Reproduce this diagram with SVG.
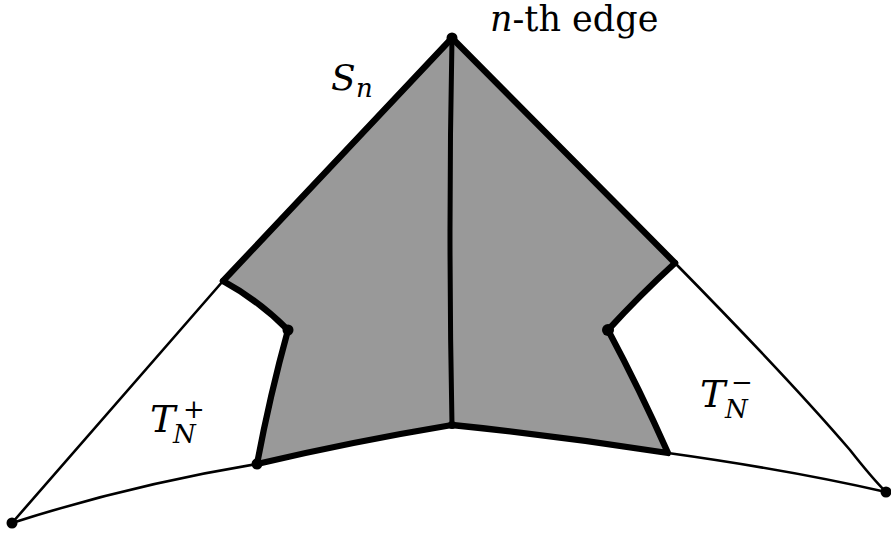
<svg xmlns="http://www.w3.org/2000/svg" width="891" height="533" viewBox="0 0 891 533">
<style>
.thin{fill:none;stroke:#000;stroke-width:2.6;stroke-linecap:round;stroke-linejoin:round}
.thick{fill:none;stroke:#000;stroke-width:6.3;stroke-linecap:round;stroke-linejoin:round}
.dot{fill:#000}
text{font-family:'DejaVu Serif','Liberation Serif',serif;fill:#000}
.it{font-style:italic}
</style>
<rect width="891" height="533" fill="#fff"/>
<g id="region">
<path d="M452,38 L675,263 Q640,295 608,330 Q640,390 668,453 Q560,436 452,425 Q350,442 257,464 Q270,395 288,330 Q255,300 223,281 Z" fill="#999999" stroke="none"/>
</g>
<g id="connectors">
<path class="thin" d="M12,523 L223,281"/>
<path class="thin" d="M12,523 Q130,485 257,464"/>
<path class="thin" d="M668,453 Q790,470 886,492"/>
<path class="thin" d="M675,263 Q790,380 850,450 Q872,478 886,492"/>
<path class="thick" d="M223,281 L452,38 L675,263"/>
<path class="thick" d="M223,281 Q258,300 288,330 Q270,395 257,464 Q350,442 452,425 Q560,436 668,453 Q640,390 608,330 Q640,295 675,263"/>
<path class="thick" style="stroke-width:5" d="M452,38 Q448,230 452,425"/>
</g>
<g id="dots">
<circle class="dot" cx="452" cy="38" r="5.5"/>
<circle class="dot" cx="288" cy="330" r="5.5"/>
<circle class="dot" cx="608" cy="330" r="6"/>
<circle class="dot" cx="257" cy="464" r="5.5"/>
<circle class="dot" cx="452" cy="425" r="4"/>
<circle class="dot" cx="12" cy="523" r="5.5"/>
<circle class="dot" cx="886" cy="492" r="5.5"/>
</g>
<g id="label-edge">
<text x="490" y="31" font-size="35"><tspan class="it">n</tspan>-th edge</text>
</g>
<g id="label-Sn">
<text class="it" x="331" y="90" font-size="36">S</text>
<text class="it" x="356" y="97" font-size="26">n</text>
</g>
<g id="label-Tplus">
<text class="it" x="150" y="432" font-size="38">T</text>
<text x="183" y="418" font-size="26">+</text>
<text class="it" x="173" y="443" font-size="26">N</text>
</g>
<g id="label-Tminus">
<text class="it" x="700" y="407" font-size="38">T</text>
<text x="731" y="391" font-size="26">−</text>
<text class="it" x="725" y="418" font-size="26">N</text>
</g>
</svg>
